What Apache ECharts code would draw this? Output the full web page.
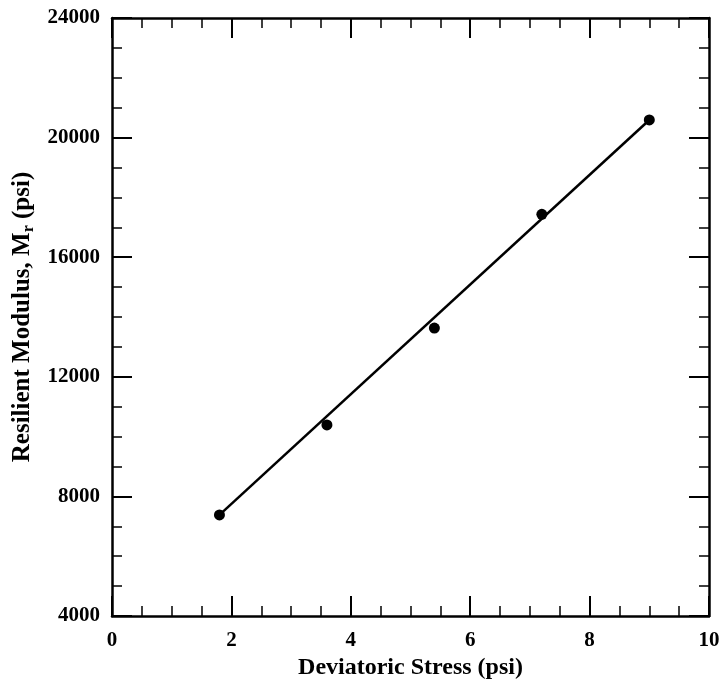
<!DOCTYPE html>
<html><head><meta charset="utf-8">
<script src="https://cdn.jsdelivr.net/npm/echarts@6/dist/echarts.min.js"></script>
<style>html,body{margin:0;padding:0;background:#fff}#c{width:722px;height:681px}</style>
</head><body><div id="c"></div>
<script>
const stressX = [1.8, 3.6, 5.4, 7.2, 9.0];
const modulusY = [7380, 10390, 13630, 17435, 20590];
const fitX = [1.8, 9.0];
const fitY = [7380, 20590];
const xTitle = 'Deviatoric Stress (psi)';
const yTitle = 'Resilient Modulus, M{sub|r} (psi)';

const font = '"Liberation Serif", "Times New Roman", serif';
const axisCommon = {
  axisLine: {show: true, onZero: false, lineStyle: {color: '#000', width: 2.5}},
  axisTick: {show: true, inside: true, length: 20, lineStyle: {color: '#000', width: 2}},
  minorTick: {show: true, splitNumber: 4, length: 10, lineStyle: {color: '#000', width: 1.5}},
  splitLine: {show: false}
};
const chart = echarts.init(document.getElementById('c'));
chart.setOption({
  animation: false,
  backgroundColor: '#fff',
  grid: {left: 112, right: 13, top: 18, bottom: 65, outerBoundsMode: 'none', containLabel: false},
  xAxis: [
    Object.assign({type: 'value', position: 'bottom', min: 0, max: 10, interval: 2,
      name: xTitle, nameLocation: 'middle', nameGap: 33,
      nameTextStyle: {fontFamily: font, fontWeight: 'bold', fontSize: 24, color: '#000'},
      axisLabel: {fontFamily: font, fontWeight: 'bold', fontSize: 21, color: '#000', margin: 14,
        formatter: v => String(v)}
    }, axisCommon),
    Object.assign({type: 'value', position: 'top', min: 0, max: 10, interval: 2,
      axisLabel: {show: false}}, axisCommon)
  ],
  yAxis: [
    Object.assign({type: 'value', position: 'left', min: 4000, max: 24000, interval: 4000,
      name: yTitle, nameLocation: 'middle', nameGap: 73,
      nameTextStyle: {fontFamily: font, fontWeight: 'bold', fontSize: 25, color: '#000',
        rich: {sub: {fontFamily: font, fontWeight: 'bold', fontSize: 16, color: '#000', verticalAlign: 'bottom', padding: [12, 0, 0, 0]}}},
      axisLabel: {fontFamily: font, fontWeight: 'bold', fontSize: 21, color: '#000', margin: 12,
        formatter: v => String(v)}
    }, axisCommon),
    Object.assign({type: 'value', position: 'right', min: 4000, max: 24000, interval: 4000,
      axisLabel: {show: false}}, axisCommon)
  ],
  series: [
    {type: 'line', data: fitX.map((x, i) => [x, fitY[i]]), symbol: 'none',
      lineStyle: {color: '#000', width: 2.5}, z: 2},
    {type: 'scatter', data: stressX.map((x, i) => [x, modulusY[i]]), symbol: 'circle', symbolSize: 11,
      itemStyle: {color: '#000', opacity: 1}, z: 3}
  ]
});
</script></body></html>
